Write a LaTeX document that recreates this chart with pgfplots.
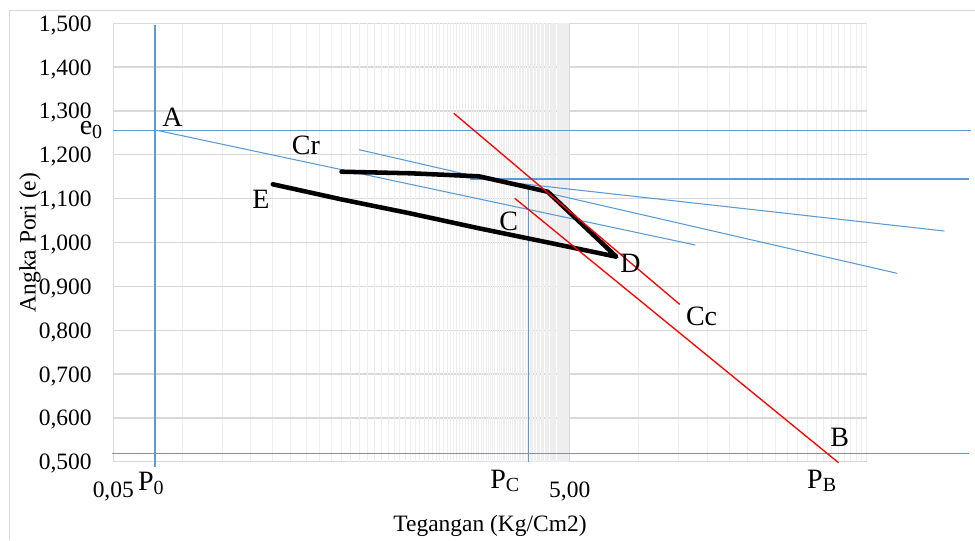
\documentclass[border=0pt]{standalone}
\usepackage{pgfplots}
\pgfplotsset{compat=1.18}
\usepackage{fontspec}
\setmainfont{Liberation Serif}
\definecolor{xblue}{HTML}{5B9BD5}
\definecolor{majgrid}{HTML}{D9D9D9}
\definecolor{mingrid}{HTML}{EEEEEE}
\newcommand\tf{\fontsize{17.6}{21}\selectfont}
\newcommand\af{\fontsize{21}{25}\selectfont}
\newcommand\sub[1]{\raisebox{-0.12em}{\fontsize{15}{15}\selectfont #1}}
\begin{document}
\begin{tikzpicture}
\useasboundingbox (0,0) rectangle (731.25pt,-405pt);
\draw[majgrid, line width=0.75pt] (6.975pt,-405pt) -- (6.975pt,-8.025pt) -- (731.25pt,-8.025pt);
\begin{axis}[
  at={(84.975pt,-346.275pt)}, anchor=south west,
  scale only axis, width=565.05pt, height=328.8pt,
  xmode=log, xmin=0.05, xmax=100, ymin=0.5, ymax=1.5,
  clip=false,
  axis line style={draw=none},
  major tick length=0pt, minor tick length=0pt,
  xtick={0.05,5}, xticklabels={{0,05},{5,00}},
  minor xtick={0.1,0.15,...,0.46,0.5,10,15,...,100},
  extra x ticks={0.55,0.6,...,4.96},
  extra x tick labels={},
  extra x tick style={grid=major, major tick length=0pt, major grid style={mingrid, line width=0.75pt}},
  ytick={0.5,0.6,0.7,0.8,0.9,1.0,1.1,1.2,1.3,1.4,1.5},
  grid=both,
  major grid style={majgrid, line width=1pt},
  minor grid style={mingrid, line width=0.75pt},
  /pgf/number format/assume math mode=true,
  tick label style={font=\tf},
  yticklabel style={/pgf/number format/.cd, fixed, fixed zerofill, precision=3, use comma, /tikz/.cd, anchor=base east, inner sep=0pt, xshift=-16pt, yshift=-6pt},
  xticklabel style={anchor=north, inner sep=0pt, yshift=-15pt},
  xlabel={Tegangan (Kg/Cm2)},
  ylabel={Angka Pori (e)},
  label style={font=\tf},
  xlabel style={at={(axis description cs:0.5,-0.1467)}, anchor=center},
  ylabel style={at={(axis description cs:-0.1106,0.5)}, anchor=center},
]
% blue construction lines
\addplot[xblue, line width=0.9pt] coordinates {(0.0761,0.4886) (0.0761,1.496)};
\addplot[xblue, line width=1.2pt] coordinates {(0.05,1.2559) (287,1.2559)};
\addplot[xblue, line width=1.0pt] coordinates {(0.0493,0.5192) (280,0.5192)};
\addplot[xblue, line width=1.2pt] coordinates {(1.83,1.1448) (280,1.1448)};
\addplot[xblue, line width=0.9pt] coordinates {(3.31,1.1243) (3.31,0.4993)};
\addplot[xblue, line width=0.8pt] coordinates {(0.0776,1.2559) (17.76,0.9943)};
\addplot[xblue, line width=0.8pt] coordinates {(0.597,1.2117) (136,0.9297)};
\addplot[xblue, line width=0.8pt] coordinates {(1.0,1.1624) (219,1.0262)};
% consolidation curve
\addplot[black, line width=3.4pt, line join=round, line cap=round] coordinates {
 (0.5,1.1615) (1,1.1579) (2,1.1510) (4,1.1159) (8,0.9676)
 (4,1.0002) (2,1.0324) (1,1.0664) (0.5,1.0983) (0.25,1.1328)};
% red tangent lines
\addplot[red, line width=1pt] coordinates {(1.553,1.2947) (15.16,0.859)};
\addplot[red, line width=1pt] coordinates {(2.871,1.1008) (75.3,0.4977)};
% annotations
\node[font=\af] at (axis cs:0.0908,1.2851) {A};
\node[font=\af] at (axis cs:0.03995,1.2566) {e\sub{0}};
\node[font=\af] at (axis cs:0.349,1.2224) {Cr};
\node[font=\af] at (axis cs:0.2217,1.0988) {E};
\node[font=\af] at (axis cs:2.70,1.0484) {C};
\node[font=\af] at (axis cs:9.23,0.9526) {D};
\node[font=\af] at (axis cs:18.9,0.832) {Cc};
\node[font=\af] at (axis cs:76.1,0.5552) {B};
\node[font=\af] at (axis cs:63.5,0.456) {P\sub{B}};
\node[font=\af] at (axis cs:2.597,0.456) {P\sub{C}};
\node[font=\af] at (axis cs:0.0731,0.4503) {P\sub{0}};
\end{axis}
\end{tikzpicture}
\end{document}
